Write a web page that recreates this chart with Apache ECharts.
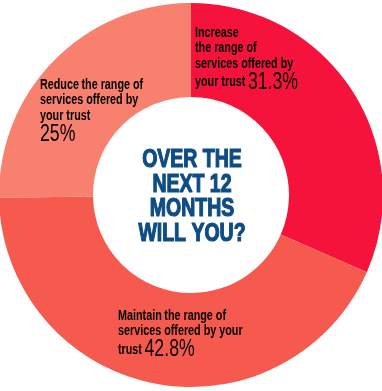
<!DOCTYPE html>
<html><head><meta charset="utf-8">
<script src="https://cdn.jsdelivr.net/npm/echarts@6/dist/echarts.min.js"></script>
<style>html,body{margin:0;padding:0;background:#fff}#c{width:382px;height:391px}</style>
</head><body><div id="c"></div>
<script>
var categories = ['Increase', 'Maintain', 'Reduce'];
var values = [31.3, 42.8, 25];
var centerLines = ['OVER THE', 'NEXT 12', 'MONTHS', 'WILL YOU?'];
var colors = ['#f5133c', '#f65a4e', '#f7806f'];

function pct(v){ return v + '%'; }
var F = '"Liberation Sans", Arial, sans-serif';
var rich = {
  k: {fontFamily: F, fontWeight: 'bold', fontSize: 14, color: '#2a1515', lineHeight: 15.5},
  w: {fontFamily: F, fontWeight: 'bold', fontSize: 14, color: '#fff', lineHeight: 15.5},
  p: {fontFamily: F, fontWeight: 'normal', fontSize: 23, color: '#fff', lineHeight: 22}
};
function label(x, y, text){
  return {type: 'text', x: x, y: y, z: 100, scaleX: 0.77, style: {text: text, rich: rich, textVerticalAlign: 'top'}};
}

var chart = echarts.init(document.getElementById('c'), null, {renderer: 'canvas'});
chart.setOption({
  animation: false,
  series: [{
    type: 'pie',
    center: [191, 195],
    radius: [98, 192],
    startAngle: 90,
    clockwise: true,
    label: {show: false},
    labelLine: {show: false},
    emphasis: {disabled: true},
    data: categories.map(function(c, i){ return {name: c, value: values[i], itemStyle: {color: colors[i]}}; })
  }],
  graphic: [
    label(195, 25, '{k|' + categories[0] + '}\n{w|the range of}\n{w|services offered by}\n{w|your trust} {p|' + pct(values[0]) + '}'),
    label(40, 77, '{k|' + categories[2] + '} {w|the range of}\n{w|services offered by}\n{w|your trust}\n{p|' + pct(values[2]) + '}'),
    label(118, 308, '{k|' + categories[1] + '} {w|the range of}\n{w|services offered by your}\n{w|trust} {p|' + pct(values[1]) + '}'),
    {type: 'text', x: 192, y: 148, z: 100, scaleX: 0.78, style: {
      text: centerLines.join('\n'), textAlign: 'center', textVerticalAlign: 'top',
      font: 'bold 25px ' + F, fill: '#0e4c84', stroke: '#0e4c84', lineWidth: 1.2, lineHeight: 24.5}}
  ]
});
</script></body></html>
